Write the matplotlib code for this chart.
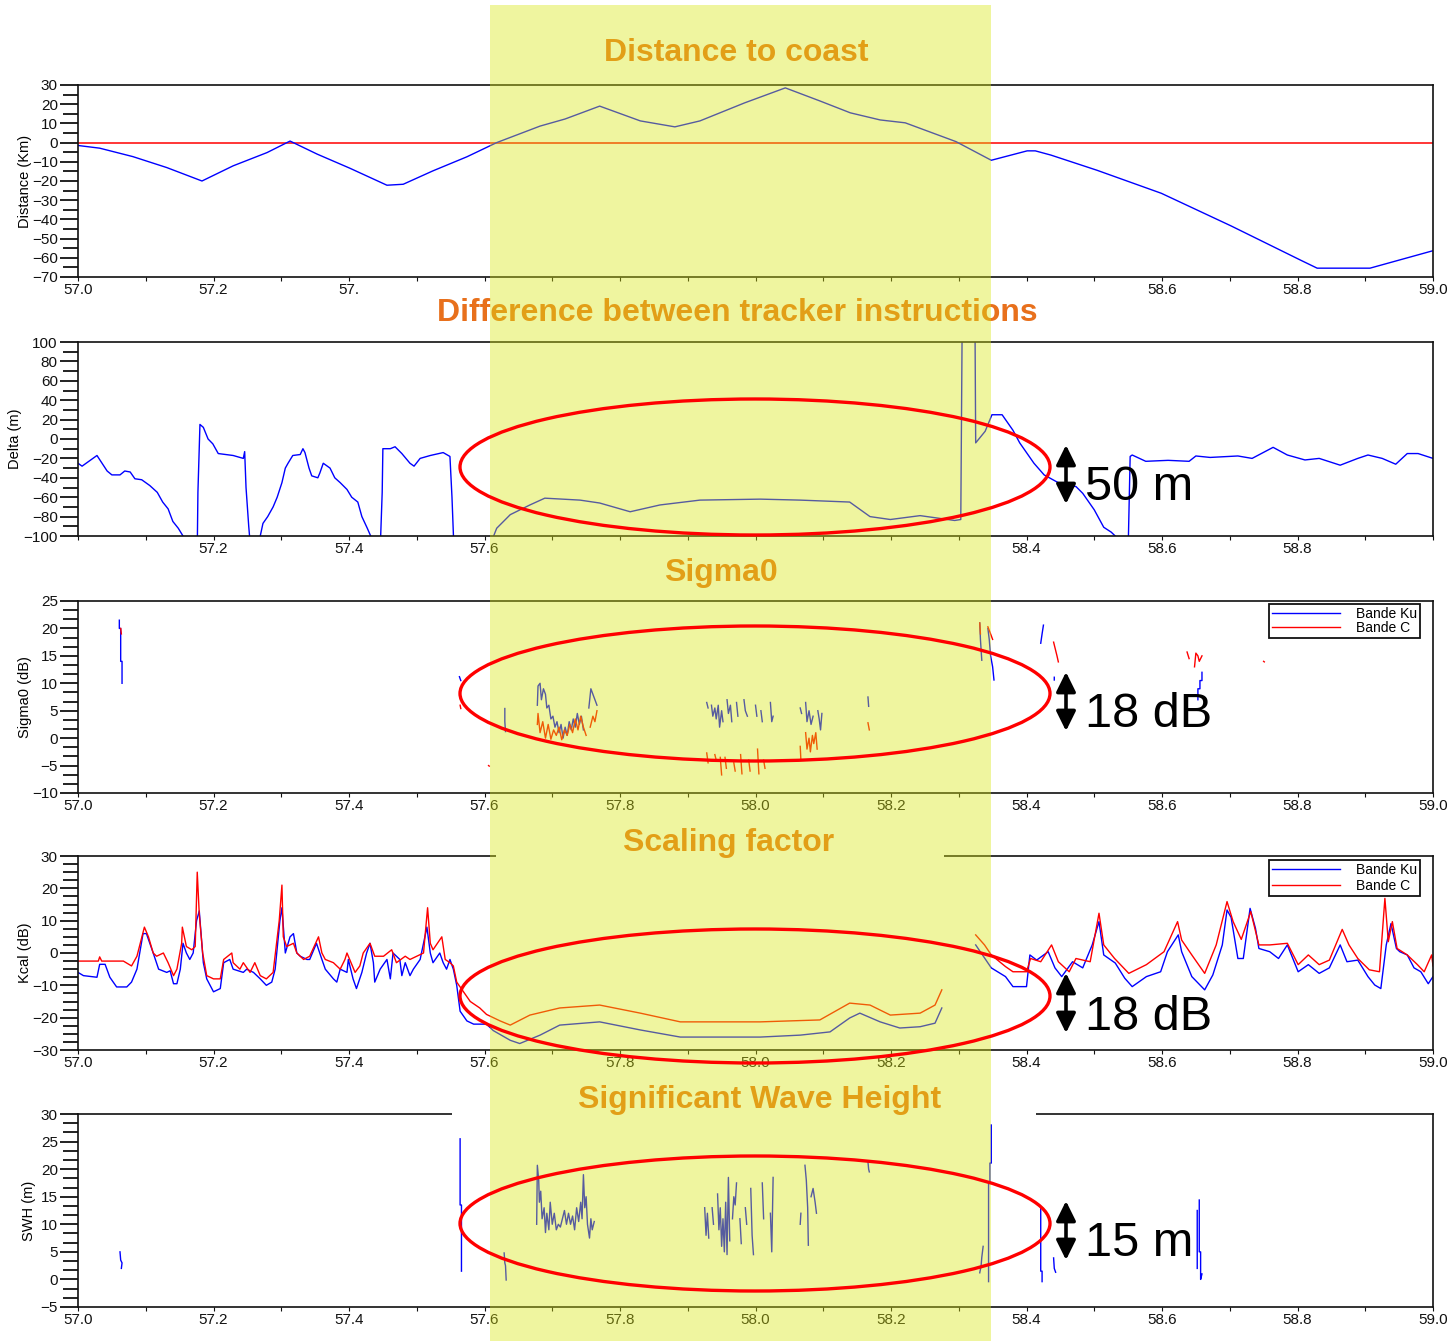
import numpy as np
import matplotlib
matplotlib.use("Agg")
import matplotlib.pyplot as plt
from matplotlib.patches import Rectangle, Ellipse, FancyArrowPatch
from matplotlib.ticker import MultipleLocator, FixedLocator, AutoMinorLocator

plt.rcParams['font.family'] = ['Liberation Sans', 'DejaVu Sans']

nan = np.nan
GAP = (nan, nan)

# ---------------- data (latitude, value) ----------------
dist_lat = [57.000, 57.032, 57.081, 57.131, 57.183, 57.229, 57.279, 57.313, 57.353, 57.401,
            57.456, 57.480, 57.524, 57.574, 57.618, 57.682, 57.719, 57.770, 57.830, 57.881,
            57.918, 57.984, 58.044, 58.095, 58.140, 58.184, 58.221, 58.296, 58.348, 58.401,
            58.413, 58.436, 58.504, 58.599, 58.702, 58.805, 58.829, 58.907, 58.999]
dist_km = [-1.5, -2.9, -7.3, -13.0, -20.0, -12.1, -5.2, 0.8, -6.0, -13.3,
           -22.2, -21.7, -14.7, -7.4, 0.0, 8.6, 12.3, 19.0, 11.3, 8.2,
           11.3, 20.7, 28.5, 21.7, 15.5, 11.8, 10.3, 0.5, -9.2, -4.3,
           -4.3, -6.5, -14.4, -26.4, -43.4, -61.3, -65.4, -65.4, -56.4]

delta_m = [
    (57.000, -25), (57.006, -28), (57.028, -17), (57.043, -33), (57.050, -37), (57.062, -37),
    (57.069, -33), (57.077, -34), (57.084, -41), (57.094, -42), (57.106, -48), (57.117, -55),
    (57.125, -65), (57.133, -72), (57.140, -85), (57.148, -92), (57.155, -100), (57.159, -115),
    (57.176, -115), (57.177, -55), (57.180, 15), (57.185, 12), (57.192, 0), (57.199, -5),
    (57.207, -15), (57.229, -17), (57.244, -20), (57.246, -13), (57.248, -50), (57.252, -90),
    (57.255, -115), (57.266, -115), (57.269, -100), (57.273, -87), (57.280, -80), (57.288, -70),
    (57.294, -60), (57.301, -45), (57.306, -30), (57.310, -25), (57.317, -17), (57.328, -16),
    (57.332, -10), (57.335, -14), (57.341, -30), (57.345, -38), (57.354, -40), (57.357, -35),
    (57.362, -25), (57.372, -30), (57.379, -40), (57.387, -45), (57.397, -52), (57.404, -60),
    (57.413, -65), (57.419, -80), (57.427, -92), (57.432, -100), (57.435, -115), (57.446, -115),
    (57.449, -55), (57.450, -10), (57.461, -10), (57.468, -8), (57.478, -15), (57.490, -25),
    (57.496, -28), (57.505, -20), (57.520, -17), (57.539, -14), (57.549, -18), (57.552, -60),
    (57.555, -115), (57.605, -115), (57.618, -92), (57.638, -78), (57.667, -68), (57.689, -61),
    (57.741, -63), (57.770, -66), (57.815, -75), (57.859, -68), (57.918, -63), (58.007, -62),
    (58.066, -63), (58.139, -65), (58.169, -80), (58.199, -83), (58.243, -79), (58.294, -84),
    (58.303, -83), (58.305, 115), (58.324, 115), (58.325, -4), (58.339, 8), (58.349, 25),
    (58.364, 25), (58.380, 9), (58.390, -4), (58.411, -25), (58.426, -37), (58.452, -47),
    (58.473, -49), (58.483, -56), (58.500, -73), (58.514, -91), (58.525, -96), (58.531, -100),
    (58.535, -115), (58.550, -115), (58.553, -18), (58.556, -16.5), (58.576, -23), (58.609, -22),
    (58.640, -23), (58.650, -17.5), (58.671, -19), (58.712, -17.5), (58.733, -20), (58.764, -8.6),
    (58.785, -16.5), (58.811, -21.6), (58.832, -20), (58.863, -27), (58.889, -20), (58.904, -16.5),
    (58.925, -20), (58.945, -26), (58.962, -15), (58.978, -15), (59.000, -20)]

sigma0_ku = [
    (57.061, 21.5), (57.061, 20.0), (57.063, 20.0), (57.063, 14.0), (57.065, 14.0), (57.065, 10.0), GAP,
    (57.563, 11.2), (57.565, 10.5), GAP,
    (57.630, 5.4), (57.630, 3.0), (57.631, 1.2), GAP,
    (57.678, 6), (57.679, 9.5), (57.682, 10), (57.684, 7), (57.687, 9), (57.690, 8), (57.692, 5.5),
    (57.695, 6), (57.698, 3.5), (57.701, 4), (57.704, 2), (57.707, 3), (57.710, 1), (57.713, 2.5),
    (57.716, 0), (57.719, 2), (57.722, 0.5), (57.725, 3), (57.728, 1.5), (57.731, 3.5), (57.734, 2),
    (57.737, 4.5), (57.740, 2.5), (57.743, 4), (57.746, 1.5), GAP,
    (57.754, 5.5), (57.757, 9), (57.760, 8), (57.763, 7), (57.766, 6), GAP,
    (57.928, 6.5), (57.930, 5.5), GAP,
    (57.935, 6), (57.937, 4), (57.940, 5.5), (57.942, 3.5), (57.945, 6), (57.947, 2), (57.950, 5), (57.952, 3), GAP,
    (57.958, 7), (57.960, 4.5), (57.963, 6), (57.965, 3), GAP,
    (57.972, 6.5), (57.974, 4), GAP,
    (57.983, 7), (57.985, 5), (57.988, 4), GAP,
    (58.000, 6), (58.002, 4), GAP,
    (58.008, 5), (58.010, 3), GAP,
    (58.022, 6.5), (58.024, 3), (58.026, 4), GAP,
    (58.066, 5.5), (58.068, 4.5), GAP,
    (58.074, 6.5), (58.076, 3), (58.079, 5), (58.082, 2.5), (58.085, 4), GAP,
    (58.092, 5), (58.094, 3.5), (58.096, 1.5), (58.098, 4.5), GAP,
    (58.166, 7.5), (58.167, 5.8), GAP,
    (58.331, 21), (58.332, 18), (58.334, 14.2), GAP,
    (58.343, 20), (58.345, 18), (58.347, 15), (58.350, 13), (58.352, 10.6), GAP,
    (58.421, 17.3), (58.423, 19), (58.425, 20.6), GAP,
    (58.441, 11.1), (58.441, 10.6), GAP,
    (58.653, 7), (58.653, 9), (58.656, 9), (58.656, 10.5), (58.659, 10.5), (58.659, 12)]

sigma0_c = [
    (57.063, 20), (57.064, 19), GAP,
    (57.564, 6), (57.565, 5.4), GAP,
    (57.606, -5), (57.607, -5.1), GAP,
    (57.678, 2.5), (57.679, 4.5), (57.682, 1), (57.686, 3), (57.690, 0), (57.694, 2.5), (57.698, -0.2),
    (57.702, 1.5), (57.706, 0.5), (57.710, 2), (57.714, -0.3), (57.718, 1.5), (57.722, 0.5),
    (57.726, 2.5), (57.730, 1), (57.734, 3.5), (57.738, 1.5), (57.742, 4), (57.746, 2), (57.750, 0.5), GAP,
    (57.756, 2), (57.760, 4), (57.763, 3), (57.766, 5), GAP,
    (57.928, -2.7), (57.930, -4.5), GAP,
    (57.940, -3), (57.942, -4), GAP,
    (57.948, -3.5), (57.950, -6.7), GAP,
    (57.955, -3.5), (57.957, -5.5), GAP,
    (57.968, -4.5), (57.970, -6), GAP,
    (57.978, -3), (57.980, -6.5), GAP,
    (57.990, -4), (57.992, -6), GAP,
    (58.003, -2), (58.005, -6.5), GAP,
    (58.012, -4), (58.014, -5.5), GAP,
    (58.066, -1.5), (58.067, -4), GAP,
    (58.074, 1), (58.076, -2), (58.079, 0), (58.081, -2.5), (58.084, 0.5), (58.086, -1),
    (58.089, 1), (58.091, -2), GAP,
    (58.166, 2.8), (58.168, 1.5), GAP,
    (58.331, 21), (58.332, 19), GAP,
    (58.343, 20.3), (58.347, 19), (58.350, 18), GAP,
    (58.440, 17.5), (58.443, 16), (58.445, 15), (58.447, 13.9), GAP,
    (58.637, 15.7), (58.640, 14.5), GAP,
    (58.648, 13), (58.650, 15.5), (58.653, 15), (58.655, 14), (58.659, 15), GAP,
    (58.750, 14), (58.751, 13.9)]

kcal_ku = [
    (57.000, -6), (57.008, -7), (57.028, -7.5), (57.032, -3.5), (57.040, -3.5), (57.047, -7.5),
    (57.057, -10.5), (57.072, -10.5), (57.079, -9), (57.087, -5), (57.096, 6), (57.101, 6),
    (57.111, 0), (57.119, -5), (57.131, -6), (57.136, -5.5), (57.141, -9.5), (57.146, -9.5),
    (57.151, -5), (57.155, 3), (57.160, 0), (57.165, -2), (57.170, 0), (57.175, 10), (57.179, 13),
    (57.185, -3), (57.190, -8), (57.200, -12), (57.210, -11), (57.215, -3), (57.224, -2),
    (57.229, -5), (57.244, -6), (57.249, -5), (57.259, -6), (57.269, -8), (57.278, -10),
    (57.286, -9), (57.291, -5), (57.298, 10), (57.301, 14), (57.306, 0), (57.313, 5), (57.318, 6),
    (57.323, 0), (57.328, -1), (57.338, -2), (57.342, -2), (57.352, 3), (57.360, -2), (57.365, -5),
    (57.377, -8), (57.382, -9), (57.387, -5), (57.397, -6), (57.399, -2), (57.406, -8),
    (57.411, -11), (57.419, -6), (57.426, 0), (57.431, 3), (57.436, -3), (57.438, -9), (57.446, -5),
    (57.456, -2), (57.461, -8), (57.465, 0), (57.475, -2), (57.478, -7), (57.483, -3), (57.490, -7),
    (57.495, -5), (57.505, -2), (57.515, 8), (57.520, 0), (57.524, -3), (57.534, 0), (57.539, -3),
    (57.544, -5), (57.549, -2), (57.554, -5), (57.559, -10), (57.564, -18), (57.574, -21),
    (57.584, -22), (57.603, -22), (57.613, -24), (57.638, -27), (57.652, -28), (57.682, -25.4),
    (57.711, -22.3), (57.770, -21.3), (57.830, -23.8), (57.889, -26), (58.007, -26), (58.066, -25.4),
    (58.110, -24.4), (58.139, -20.1), (58.154, -18.6), (58.184, -21.3), (58.213, -23.2),
    (58.243, -22.8), (58.265, -21.7), (58.275, -17), GAP,
    (58.325, 2.5), (58.348, -4.6), (58.369, -7.3), (58.380, -10.4), (58.400, -10.4), (58.405, -0.6),
    (58.415, -2.2), (58.432, 0.4), (58.442, -4.6), (58.452, -7.3), (58.468, -2.7), (58.483, -4.6),
    (58.497, 2.5), (58.507, 9.7), (58.514, -0.6), (58.531, -3.1), (58.545, -7.8), (58.556, -10.4),
    (58.577, -7.3), (58.598, -5.8), (58.608, 0.4), (58.624, 5.6), (58.629, 0.4), (58.644, -7.3),
    (58.663, -11.4), (58.675, -6.8), (58.689, 2.5), (58.696, 13.3), (58.702, 11), (58.712, -1.7),
    (58.720, -1.7), (58.730, 13.8), (58.738, 7.6), (58.743, 1.4), (58.759, 0.4), (58.772, -1.7),
    (58.785, 2.5), (58.801, -5.8), (58.816, -3.6), (58.832, -6.3), (58.847, -4.6), (58.863, 2.5),
    (58.873, -2.7), (58.889, -2.2), (58.904, -7.3), (58.914, -9.9), (58.923, -11), (58.931, 2.5),
    (58.938, 9.1), (58.946, 1.4), (58.951, 0.4), (58.962, -0.6), (58.972, -4.6), (58.982, -5.8),
    (58.993, -9.5), (59.000, -7.3)]

kcal_c = [
    (57.000, -2.5), (57.030, -2.5), (57.032, -1.2), (57.035, -2.5), (57.067, -2.5), (57.079, -4),
    (57.087, -1), (57.098, 8), (57.104, 5), (57.111, 0), (57.116, -1), (57.126, 0), (57.133, -3),
    (57.141, -7), (57.146, -5), (57.153, 3), (57.154, 8), (57.160, 2), (57.168, 1), (57.173, 2),
    (57.176, 25), (57.179, 12), (57.184, 0), (57.190, -7), (57.200, -8), (57.210, -8), (57.215, -2),
    (57.227, 0), (57.229, -3), (57.239, -5), (57.244, -3), (57.254, -6), (57.261, -3), (57.269, -7),
    (57.278, -8), (57.288, -6), (57.297, 10), (57.301, 21), (57.303, 5), (57.308, 2), (57.318, 3),
    (57.323, 0), (57.333, -2), (57.342, -1), (57.355, 5), (57.360, 0), (57.365, -2), (57.377, -3),
    (57.387, -5), (57.394, -2), (57.397, 0), (57.409, -6), (57.416, -4), (57.421, 0), (57.431, 3),
    (57.438, -1), (57.451, -1), (57.463, 1), (57.470, -3), (57.483, -1), (57.490, -2), (57.500, -1),
    (57.510, 0), (57.516, 14), (57.520, 3), (57.524, 1), (57.537, 5), (57.542, -2), (57.549, -3),
    (57.554, -4), (57.559, -9), (57.569, -12), (57.579, -15), (57.593, -17), (57.603, -19),
    (57.613, -20), (57.623, -21), (57.638, -22.3), (57.667, -19.2), (57.711, -17), (57.770, -16.1),
    (57.830, -18.6), (57.889, -21.3), (58.007, -21.3), (58.095, -20.7), (58.139, -15.5),
    (58.169, -16.1), (58.199, -19.2), (58.243, -18.6), (58.265, -16.1), (58.275, -11.4), GAP,
    (58.325, 5.6), (58.338, 2.5), (58.348, -0.6), (58.369, -4.2), (58.380, -5.8), (58.400, -5.8),
    (58.406, -1.7), (58.421, -2.7), (58.437, 2.5), (58.447, -2.7), (58.463, -5.8), (58.473, -1.7),
    (58.494, -2.7), (58.507, 12.3), (58.514, 2.5), (58.530, -1.7), (58.551, -6.3), (58.577, -3.6),
    (58.603, 0.4), (58.623, 9.7), (58.629, 4), (58.644, -0.6), (58.663, -6.3), (58.680, 2.5),
    (58.696, 15.9), (58.705, 9.7), (58.717, 4.2), (58.731, 12.8), (58.743, 2.5), (58.759, 2.5),
    (58.785, 3), (58.801, -3.6), (58.816, -0.6), (58.832, -3.6), (58.847, -2.2), (58.866, 7.3),
    (58.876, 2.5), (58.889, -1.7), (58.906, -5.2), (58.921, -5.8), (58.929, 16.9), (58.934, 3.5),
    (58.940, 9.7), (58.947, 1.4), (58.962, -0.6), (58.977, -3.6), (58.987, -5.8), (58.998, -0.6),
    (59.000, -4)]

swh_m = [
    (57.062, 5), (57.063, 3.5), (57.065, 3), (57.064, 2), GAP,
    (57.564, 25.5), (57.564, 13.5), (57.566, 13.5), (57.566, 1.5), GAP,
    (57.629, 4.8), (57.630, 3), (57.631, 2.5), (57.632, -0.1), GAP,
    (57.677, 10), (57.678, 20.7), (57.680, 18), (57.681, 14), (57.683, 16), (57.685, 11), (57.688, 13),
    (57.690, 8.5), (57.692, 12), (57.695, 9), (57.697, 14), (57.700, 10), (57.703, 12), (57.706, 9),
    (57.709, 10), (57.712, 9.5), (57.715, 11), (57.718, 12.5), (57.721, 10), (57.724, 12), (57.727, 10),
    (57.730, 11.5), (57.733, 9), (57.736, 13), (57.739, 10.5), (57.742, 14), (57.744, 11), (57.746, 19),
    (57.748, 13), (57.750, 15), (57.752, 10), (57.755, 7.5), (57.757, 11), (57.759, 9), (57.762, 10.5), GAP,
    (57.925, 13), (57.927, 8), (57.929, 12), (57.931, 7.5), GAP,
    (57.936, 13), (57.938, 10), GAP,
    (57.944, 15.5), (57.946, 9), (57.948, 13), (57.950, 6), (57.952, 11), (57.954, 5), (57.956, 14),
    (57.958, 4.5), (57.960, 18.5), (57.962, 7), GAP,
    (57.966, 11), (57.968, 15), (57.970, 13.5), (57.972, 17.5), GAP,
    (57.977, 11), (57.979, 6.5), GAP,
    (57.985, 13), (57.987, 10), GAP,
    (57.993, 16.5), (57.995, 8), (57.997, 4.5), GAP,
    (58.010, 17.5), (58.012, 11), GAP,
    (58.022, 12), (58.024, 5), (58.026, 18.5), GAP,
    (58.066, 10), (58.067, 12), GAP,
    (58.073, 20.7), (58.075, 18), (58.077, 13), (58.078, 6.2), GAP,
    (58.082, 15), (58.085, 16.5), (58.088, 14), (58.090, 12), GAP,
    (58.166, 21.3), (58.167, 20), (58.168, 19.5), GAP,
    (58.331, 1.2), (58.333, 2.5), (58.334, 4), (58.336, 6), GAP,
    (58.348, 28), (58.348, 21.1), (58.346, 21.1), (58.346, 17.5), (58.344, 17.5), (58.344, -0.4), GAP,
    (58.421, 13.2), (58.421, 1.5), (58.423, 1.5), (58.423, -0.4), GAP,
    (58.440, 3.9), (58.441, 2), (58.443, 1.3), GAP,
    (58.652, 12.5), (58.652, 2), GAP,
    (58.655, 14.4), (58.655, 5), (58.657, 5), (58.657, 0), (58.659, 1)]

lat_ticks = [57.0, 57.1, 57.2, 57.3, 57.4, 57.5, 57.6, 57.7, 57.8, 57.9, 58.0,
             58.1, 58.2, 58.3, 58.4, 58.5, 58.6, 58.7, 58.8, 58.9, 59.0]
labels_all = ['57.0', '', '57.2', '', '57.4', '', '57.6', '', '57.8', '', '58.0',
              '', '58.2', '', '58.4', '', '58.6', '', '58.8', '', '59.0']
labels_p1 = ['57.0', '', '57.2', '', '57.', '', '', '', '', '', '',
             '', '', '', '', '', '58.6', '', '58.8', '', '59.0']
labels_p2 = ['', '', '57.2', '', '57.4', '', '57.6', '', '', '', '',
             '', '', '', '58.4', '', '58.6', '', '58.8', '', '']

titles = ['Distance to coast', 'Difference between tracker instructions', 'Sigma0',
          'Scaling factor', 'Significant Wave Height']
spans = ['50 m', '18 dB', '18 dB', '15 m']

BLUE = '#0000FF'
RED = '#FF0000'
ORANGE = '#E8701C'

# ---------------- figure ----------------
W, H = 1451, 1341
fig = plt.figure(figsize=(W / 100, H / 100), dpi=100)


def fx(px):
    return px / W


def fy(py):
    return 1 - py / H


def add_axes(top, bottom, left=78, right=1433):
    return fig.add_axes([fx(left), fy(bottom), (right - left) / W, (bottom - top) / H])


def style(ax, ylim, ystep, nminor, ylabel, xlabels, lab_x):
    ax.set_xlim(57.0, 59.0)
    ax.set_ylim(*ylim)
    ax.yaxis.set_major_locator(MultipleLocator(ystep))
    ax.yaxis.set_minor_locator(AutoMinorLocator(nminor))
    ax.xaxis.set_major_locator(FixedLocator(lat_ticks))
    ax.set_xticklabels(xlabels)
    ax.tick_params(axis='y', which='major', length=13, width=1.3, pad=1.5,
                   labelsize=11, colors='#111111')
    ax.tick_params(axis='y', which='minor', length=11, width=1.3, colors='#111111')
    ax.tick_params(axis='x', which='major', length=3, width=0.8, pad=1,
                   labelsize=11, colors='#111111')
    for s in ax.spines.values():
        s.set_linewidth(1.2)
        s.set_color('#111111')
    ax.set_ylabel(ylabel, fontsize=10.5)
    ax.yaxis.set_label_coords(lab_x, 0.5)


def xy(pts):
    a = np.array(pts, dtype=float)
    return a[:, 0], a[:, 1]


lw = 1.0

# panel 1 : distance to coast
ax1 = add_axes(85, 277)
ax1.axhline(0, color=RED, lw=1.1)
ax1.plot(dist_lat, dist_km, color=BLUE, lw=lw)
style(ax1, (-70, 30), 10, 2, 'Distance (Km)', labels_p1, -0.034)

# panel 2 : tracker difference
ax2 = add_axes(342, 536)
ax2.plot(*xy(delta_m), color=BLUE, lw=lw)
style(ax2, (-100, 100), 20, 2, 'Delta (m)', labels_p2, -0.041)

# panel 3 : sigma0
ax3 = add_axes(601, 793)
ax3.plot(*xy(sigma0_ku), color=BLUE, lw=lw, label='Bande Ku')
ax3.plot(*xy(sigma0_c), color=RED, lw=lw, label='Bande C')
style(ax3, (-10, 25), 5, 3, 'Sigma0 (dB)', labels_all, -0.034)

# panel 4 : scaling factor
ax4 = add_axes(856, 1050)
ax4.plot(*xy(kcal_ku), color=BLUE, lw=lw, label='Bande Ku')
ax4.plot(*xy(kcal_c), color=RED, lw=lw, label='Bande C')
style(ax4, (-30, 30), 10, 4, 'Kcal (dB)', labels_all, -0.034)

# panel 5 : significant wave height
ax5 = add_axes(1114, 1307)
ax5.plot(*xy(swh_m), color=BLUE, lw=lw)
style(ax5, (-5, 30), 5, 3, 'SWH (m)', labels_all, -0.031)

for ax, top_anchor, spacing in ((ax3, 0.985, -0.05), (ax4, 0.98, 0.12)):
    leg = ax.legend(loc='upper right', bbox_to_anchor=(0.9905, top_anchor),
                    borderaxespad=0, fontsize=10, frameon=True, fancybox=False,
                    handlelength=4.9, handletextpad=1.1, labelspacing=spacing,
                    borderpad=0.25, framealpha=1)
    leg.get_frame().set_edgecolor('#111111')
    leg.get_frame().set_linewidth(1.3)

# white boxes behind the lower titles
for (l, r, t, b) in ((496, 944, 824, 859), (452, 1036, 1081, 1117)):
    fig.add_artist(Rectangle((fx(l), fy(b)), (r - l) / W, (b - t) / H,
                             transform=fig.transFigure, facecolor='white',
                             edgecolor='none', zorder=1))

# panel titles
title_pos = [(736, 61), (737, 321), (721, 581), (729, 851), (760, 1108)]
for s, (px, py) in zip(titles, title_pos):
    fig.text(fx(px), fy(py), s, ha='center', va='baseline', fontsize=23,
             fontweight='bold', color=ORANGE, zorder=2)

# highlighted latitude band
fig.add_artist(Rectangle((fx(490), 0), (991 - 490) / W, 1 - 5 / H,
                         transform=fig.transFigure, facecolor='#D9E611',
                         edgecolor='none', alpha=0.4, zorder=3))

# ellipses around the anomalous zone
for cy, h in ((467, 136), (693.5, 135), (996, 134), (1223.5, 135)):
    fig.add_artist(Ellipse((fx(755), fy(cy)), 590 / W, h / H,
                           transform=fig.transFigure, fill=False,
                           edgecolor=RED, lw=2.4, zorder=4))

# amplitude arrows and labels
arrow_spans = [(445, 504), (672, 731), (973, 1033), (1201, 1260)]
baselines = [500, 727, 1030, 1256]
for (t, b), base, s in zip(arrow_spans, baselines, spans):
    fig.add_artist(FancyArrowPatch((fx(1066), fy(t)), (fx(1066), fy(b)),
                                   transform=fig.transFigure,
                                   arrowstyle='<|-|>,head_length=0.85,head_width=0.42',
                                   mutation_scale=14, lw=2.6, color='black',
                                   shrinkA=0, shrinkB=0, zorder=5))
    fig.text(fx(1085), fy(base), s, ha='left', va='baseline', fontsize=35,
             color='black', zorder=5)

fig.savefig('out.png', dpi=100)
